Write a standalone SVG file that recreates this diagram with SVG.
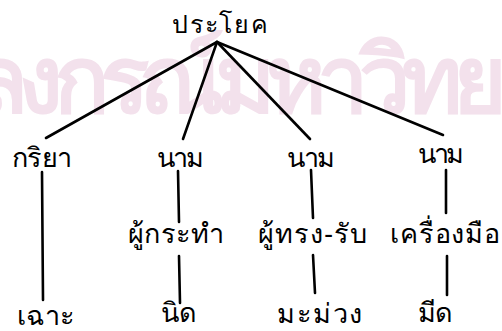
<svg xmlns="http://www.w3.org/2000/svg" width="502" height="331" viewBox="0 0 502 331">
<style>
.t{font-family:"Noto Sans","DejaVu Sans",sans-serif;font-size:27px;fill:#000}
.wm{font-family:"Noto Sans","DejaVu Sans",sans-serif;font-size:92px;font-weight:bold;fill:#f3e1ec}
.e{stroke:#000;stroke-width:2.6;fill:none;stroke-linecap:round}
</style>
<rect width="502" height="331" fill="#fff"/>
<text class="wm" x="-28" y="112" textLength="535">ลงกรณ์มหาวิทย</text>
<g id="connectors">
<path class="e" d="M217 42 L46 138"/>
<path class="e" d="M217 42 L183 139"/>
<path class="e" d="M217 42 L310 139"/>
<path class="e" d="M217 42 L443 135"/>
<path class="e" d="M42 172 L43 300"/>
<path class="e" d="M178 171 L179 222"/>
<path class="e" d="M179 256 L180 303"/>
<path class="e" d="M311 170 L313 218"/>
<path class="e" d="M313 255 L315 293"/>
<path class="e" d="M446 170 L446 213"/>
<path class="e" d="M447 256 L447 295"/>
</g>
<g id="root"><text class="t" style="font-size:25px" x="172" y="33" textLength="96">ประโยค</text></g>
<g id="n1"><text class="t" x="12" y="167" textLength="60">กริยา</text></g>
<g id="n2"><text class="t" x="157" y="167" textLength="47">นาม</text></g>
<g id="n3"><text class="t" x="287" y="167" textLength="48">นาม</text></g>
<g id="n4"><text class="t" x="418" y="163" textLength="46">นาม</text></g>
<g id="n5"><text class="t" x="128" y="243" textLength="96">ผู้กระทำ</text></g>
<g id="n6"><text class="t" x="258" y="243" textLength="109">ผู้ทรง-รับ</text></g>
<g id="n7"><text class="t" x="390" y="243" textLength="110">เครื่องมือ</text></g>
<g id="n8"><text class="t" x="17" y="325" textLength="58">เฉาะ</text></g>
<g id="n9"><text class="t" x="161" y="322">นิด</text></g>
<g id="n10"><text class="t" x="277" y="323" textLength="85">มะม่วง</text></g>
<g id="n11"><text class="t" x="417" y="322" textLength="35">มีด</text></g>
</svg>
